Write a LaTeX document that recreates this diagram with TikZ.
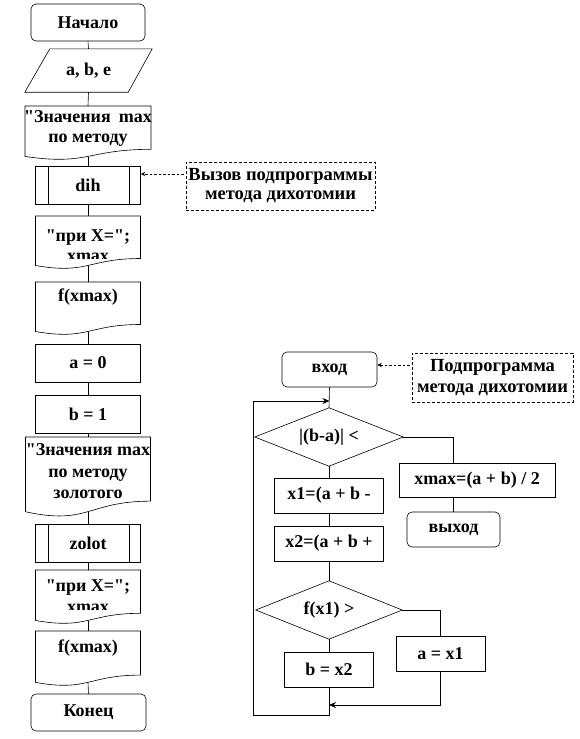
\documentclass[tikz,border=0pt]{standalone}
\usepackage{fontspec}
\setmainfont{Liberation Serif}
\usetikzlibrary{calc,arrows.meta}
\newcommand\docsh[5]{%
  \node[docnode, minimum width={#4}, minimum height={0.933*#5}] (#1) at ({#2},{#3+0.4665*#5}) {};
  \draw[shp] ({#2-#4/2},{#3}) -- ({#2+#4/2},{#3}) -- ({#2+#4/2},{#3+0.802*#5})
     .. controls ({#2},{#3+0.802*#5}) and ({#2},{#3+1.107*#5}) .. ({#2-#4/2},{#3+0.934*#5}) -- cycle;
}
\newcommand\qd{\textquotedbl}
\tikzset{
  shp/.style={draw, line width=0.6pt},
  box/.style={shp, rectangle, inner sep=0pt, align=center},
  rbox/.style={box, rounded corners=5pt},
  docnode/.style={rectangle, inner sep=0pt, draw=none, align=center},
  txt/.style={inner sep=0pt, align=center},
  conn/.style={line width=0.6pt},
  arr/.style={conn, -{Stealth[length=7pt,width=6pt]}},
  darr/.style={line width=0.5pt, dash pattern=on 2.5pt off 2pt, -{Stealth[length=4.5pt,width=4.5pt]}},
  callout/.style={box, line width=0.5pt, dash pattern=on 3pt off 2pt},
}
\begin{document}
\begin{tikzpicture}[x=1pt, y=-1pt, font=\bfseries\fontsize{18}{20}\selectfont]
\useasboundingbox (0,0) rectangle (579,739);

% ---------- left column ----------
\node[rbox, minimum width=114, minimum height=37] (start) at (88,22.5) {Начало};

\node[docnode, minimum width=127, minimum height=43] (inp) at (88.5,70.5) {a, b, e};
\draw[shp] ([xshift=25pt]inp.north west) -- (inp.north east) -- ([xshift=-24pt]inp.south east) -- (inp.south west) -- cycle;

\docsh{doc1}{88}{106}{126}{54}
\node[txt] (doc1t) at (88,128) {\qd Значения\hspace{0.45em}max\\по методу};

\node[box, minimum width=105, minimum height=38] (dih) at (88,185) {dih};
\draw[shp] ([xshift=13pt]dih.north west) -- ([xshift=13pt]dih.south west);
\draw[shp] ([xshift=-12pt]dih.north east) -- ([xshift=-12pt]dih.south east);

\docsh{doc2}{88}{216}{105}{53}
\node[txt] (doc2t) at (88,238) {\qd при X=\qd;};
\begin{scope}
  \clip (30,246) rectangle (146,258.3);
  \node[txt] (doc2x) at (88,257.5) {xmax};
\end{scope}

\docsh{doc3}{88}{282}{105}{53}
\node[txt] (doc3t) at (88,297) {f(xmax)};

\node[box, minimum width=105, minimum height=38] (a0) at (88,363) {a = 0};
\node[box, minimum width=105, minimum height=38] (b1) at (88,414) {b = 1};

\docsh{doc4}{88}{437}{125}{80}
\node[txt, font=\bfseries\fontsize{18}{21.5}\selectfont] (doc4t) at (88,471.5) {\qd Значения max\\по методу\\золотого};

\node[box, minimum width=105, minimum height=38] (zolot) at (88,543) {zolot};
\draw[shp] ([xshift=13pt]zolot.north west) -- ([xshift=13pt]zolot.south west);
\draw[shp] ([xshift=-12pt]zolot.north east) -- ([xshift=-12pt]zolot.south east);

\docsh{doc5}{88}{570}{105}{54}
\node[txt] (doc5t) at (88,588) {\qd при X=\qd;};
\begin{scope}
  \clip (30,597) rectangle (146,609.5);
  \node[txt] (doc5x) at (88,608.5) {xmax};
\end{scope}

\docsh{doc6}{88}{631}{105}{55}
\node[txt] (doc6t) at (88,648) {f(xmax)};

\node[rbox, minimum width=115, minimum height=37] (end) at (88.5,712.5) {Конец};

\foreach \a/\b in {start/inp, inp/doc1, doc1/dih, dih/doc2, doc2/doc3, doc3/a0, a0/b1, b1/doc4, doc4/zolot, zolot/doc5, doc5/doc6, doc6/end}
  \draw[conn] (\a.south) -- (\b.north);

% ---------- callout 1 ----------
\node[callout, minimum width=189, minimum height=48, font=\bfseries\fontsize{18.5}{19}\selectfont] (call1) at (280.5,186) {Вызов подпрограммы\\метода дихотомии};
\path ($(call1.west)+(-2,-12)$) coordinate (c1a);
\draw[darr] (c1a) -- (dih.east |- c1a);

% ---------- subroutine ----------
\node[rbox, minimum width=95, minimum height=35] (entry) at (329.5,369.5) {вход};
\node[callout, minimum width=161, minimum height=49, font=\bfseries\fontsize{18.5}{20.7}\selectfont] (call2) at (492.5,377.5) {Подпрограмма\\метода дихотомии};
\path ($(call2.west)+(-2,-12.5)$) coordinate (c2a);
\draw[darr] (c2a) -- (entry.east |- c2a);

\node[docnode, minimum width=148, minimum height=58] (d1) at (329,437) {|(b-a)| <};
\draw[shp] (d1.west) -- (d1.north) -- (d1.east) -- (d1.south) -- cycle;

\node[box, minimum width=156, minimum height=34] (xmaxb) at (477,480.5) {xmax=(a + b) / 2};
\node[rbox, minimum width=93, minimum height=35] (exit) at (453.5,529.5) {выход};

\node[box, minimum width=109, minimum height=35] (x1b) at (329,495.5) {x1=(a + b -};
\node[box, minimum width=109, minimum height=35] (x2b) at (329,543.5) {x2=(a + b +};

\node[docnode, minimum width=146, minimum height=58] (d2) at (329,610) {f(x1) >};
\draw[shp] (d2.west) -- (d2.north) -- (d2.east) -- (d2.south) -- cycle;

\node[box, minimum width=89, minimum height=35] (bx2) at (329,669.5) {b = x2};
\node[box, minimum width=89, minimum height=35] (ax1) at (440.5,653.5) {a = x1};

\draw[conn] (entry.south) -- (d1.north);
\draw[conn] (d1.south) -- (x1b.north);
\draw[conn] (x1b.south) -- (x2b.north);
\draw[conn] (x2b.south) -- (d2.north);
\draw[conn] (d2.south) -- (bx2.north);
\draw[conn] (d1.east) -| (exit.north |- xmaxb.north);
\draw[conn] (exit.north |- xmaxb.south) -- (exit.north);
\draw[conn] (d2.east) -| (ax1.north);

\coordinate (join) at (329,705);
\draw[arr] (ax1.south) |- (join);
\coordinate (lb) at (253,715);
\coordinate (lt) at (253,401);
\draw[arr] (bx2.south) |- (lb) -- (lt) -- (entry.south |- lt);
\end{tikzpicture}
\end{document}
